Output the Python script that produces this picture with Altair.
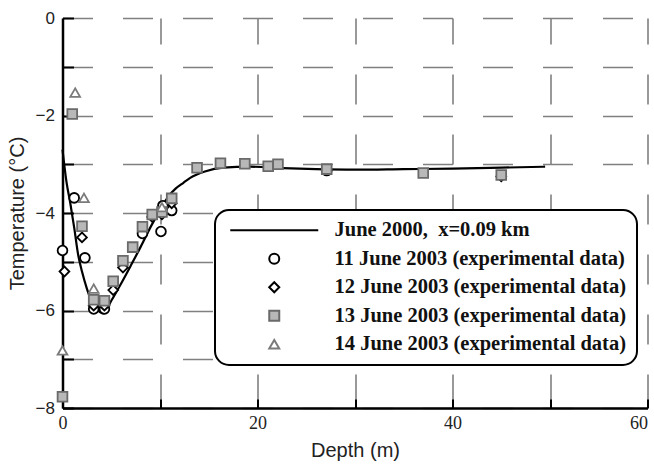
import altair as alt
import pandas as pd

SERIES = [
    "June 2000,\u00a0 x=0.09 km",
    "11 June 2003 (experimental data)",
    "12 June 2003 (experimental data)",
    "13 June 2003 (experimental data)",
    "14 June 2003 (experimental data)",
]
SHAPES = ["M-8.8,0L8.8,0", "circle", "diamond", "square", "triangle-up"]
STROKES = ["black", "black", "black", "#6a6a6a", "#7a7a7a"]
FILLS = ["transparent", "white", "white", "#b8b8b8", "white"]

model_depth = [0, 0.4, 0.8, 1.2, 1.6, 2.0, 2.5, 3.0, 3.5, 4.2, 5.0, 6.0, 7.0, 8.0, 9.0,
               10.0, 10.9, 11.6, 12.4, 13.1, 14.6, 16.5, 19.2, 22.6, 26, 30, 35, 40, 45, 49.5]
model_temp = [-2.7, -3.35, -3.8, -4.3, -4.85, -5.2, -5.55, -5.82, -5.97, -6.06, -5.8, -5.45,
              -5.08, -4.7, -4.3, -3.94, -3.65, -3.5, -3.38, -3.28, -3.15, -3.07, -3.05, -3.08,
              -3.1, -3.11, -3.1, -3.09, -3.07, -3.05]

d11_depth = [0, 1.2, 2.3, 3.2, 4.3, 8.2, 10.1, 11.2, 10.3, 27.1]
d11_temp = [-4.77, -3.69, -4.92, -5.97, -5.97, -4.42, -4.38, -3.95, -3.85, -3.13]

d12_depth = [0.2, 2.0, 3.2, 4.3, 5.2, 6.2, 9.2, 10.2, 11.2, 27.1, 45]
d12_temp = [-5.2, -4.5, -5.9, -5.9, -5.58, -5.12, -4.08, -4.03, -3.8, -3.12, -3.25]

d13_depth = [0, 1.0, 2.0, 3.2, 4.3, 5.2, 6.2, 7.2, 8.2, 9.2, 10.2, 11.2, 13.8, 16.2, 18.7,
             21.1, 22.1, 27.1, 37, 45]
d13_temp = [-7.77, -1.97, -4.27, -5.78, -5.8, -5.4, -4.98, -4.7, -4.28, -4.03, -3.98, -3.7,
            -3.07, -2.98, -2.99, -3.04, -3.0, -3.1, -3.18, -3.22]

d14_depth = [0, 1.3, 2.2, 3.2, 10.2]
d14_temp = [-6.82, -1.53, -3.69, -5.55, -3.88]

x_ticks = [0, 10, 20, 30, 40, 50, 60]
y_ticks = [-8, -7, -6, -5, -4, -3, -2, -1, 0]

model_df = pd.DataFrame({"depth": model_depth, "temp": model_temp})
frames = []
for name, dd, tt in [(SERIES[1], d11_depth, d11_temp), (SERIES[2], d12_depth, d12_temp),
                     (SERIES[3], d13_depth, d13_temp), (SERIES[4], d14_depth, d14_temp)]:
    frames.append(pd.DataFrame({"depth": dd, "temp": tt, "series": name}))
pts_df = pd.concat(frames, ignore_index=True)

xscale = alt.Scale(domain=[0, 60], nice=False, zero=False)
yscale = alt.Scale(domain=[-8, 0], nice=False, zero=False)

x_main = alt.Axis(
    orient="bottom", values=x_ticks, ticks=False,
    labelExpr="datum.value % 20 == 0 ? datum.label : ''",
    labelAlign=alt.ExprRef(expr="datum.value >= 60 ? 'right' : 'center'"),
    labelFont="Liberation Serif", labelFontSize=18, labelColor="#222", labelPadding=6,
    labelFlush=False, labelOverlap=False,
    title="Depth (m)", titleFont="Liberation Sans", titleFontSize=20, titleFontWeight="normal",
    titleColor="#222", titlePadding=8,
    domainColor="black", domainWidth=2.5,
    grid=True, gridColor="#808080", gridWidth=1.6, gridDash=[30, 30], gridDashOffset=4,
)
y_main = alt.Axis(
    orient="left", values=y_ticks, ticks=False,
    labelExpr="datum.value % 2 == 0 ? datum.label : ''",
    labelFont="Liberation Sans", labelFontSize=17, labelColor="#222", labelPadding=8,
    labelFlush=False, labelOverlap=False,
    title="Temperature (\u00b0C)", titleFont="Liberation Sans", titleFontSize=20,
    titleFontWeight="normal", titleColor="#222", titlePadding=8,
    domainColor="black", domainWidth=2.5,
    grid=True, gridColor="#808080", gridWidth=1.6, gridDash=[30, 30],
)
x_ticks_ax = alt.Axis(orient="top", offset=-390, values=x_ticks, labels=False, domain=False,
                      grid=False, ticks=True, tickSize=9, tickWidth=2, tickColor="black", title="")
y_ticks_ax = alt.Axis(orient="right", offset=-585, values=y_ticks, labels=False, domain=False,
                      grid=False, ticks=True, tickSize=11, tickWidth=2, tickColor="black", title="")

leg = alt.Legend(
    orient="none", legendX=152.5, legendY=192, title=None,
    padding=10, cornerRadius=14, strokeColor="black", fillColor="white",
    symbolOffset=39, labelOffset=50, rowPadding=7.5, symbolSize=100, symbolStrokeWidth=2,
    labelFont="Liberation Serif", labelFontWeight="bold", labelFontSize=20.5,
    labelColor="#111", labelLimit=500,
)

line = alt.Chart(model_df).mark_line(color="black", strokeWidth=2.2, interpolate="monotone").encode(
    x=alt.X("depth:Q", scale=xscale, axis=x_main),
    y=alt.Y("temp:Q", scale=yscale, axis=y_main),
)

pts = alt.Chart(pts_df).mark_point(size=95, opacity=1, strokeWidth=1.8, filled=False).encode(
    x=alt.X("depth:Q", scale=xscale, axis=x_ticks_ax),
    y=alt.Y("temp:Q", scale=yscale, axis=y_ticks_ax),
    shape=alt.Shape("series:N", scale=alt.Scale(domain=SERIES, range=SHAPES), legend=leg),
    stroke=alt.Stroke("series:N", scale=alt.Scale(domain=SERIES, range=STROKES), legend=leg),
    fill=alt.Fill("series:N", scale=alt.Scale(domain=SERIES, range=FILLS), legend=leg),
)

chart = alt.layer(line, pts).properties(
    width=585, height=390,
    autosize=alt.AutoSizeParams(type="none"),
    padding={"left": 62.5, "top": 18, "right": 6.5, "bottom": 58},
    background="white",
).configure_view(stroke=None).configure_legend(strokeWidth=2)

chart.save("out.html", embed_options={"renderer": "svg", "actions": False})
